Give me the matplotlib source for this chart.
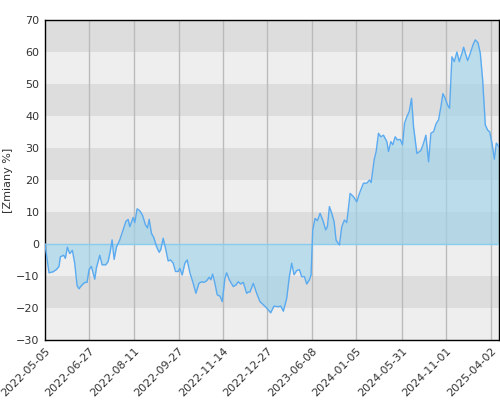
import matplotlib
matplotlib.use("Agg")
import matplotlib.pyplot as plt
import numpy as np

x = [0,12,24,34,42,46,56,61,67,74,82,89,96,102,109,119,126,132,139,149,154,164,171,182,189,196,201,207,214,224,234,242,249,254,264,269,276,284,292,301,307,312,319,326,334,342,347,354,361,369,376,384,391,399,404,411,419,426,434,444,452,461,469,476,484,492,497,502,509,516,524,531,539,544,552,564,572,579,586,594,604,609,614,624,634,644,654,664,676,686,699,706,714,724,732,739,746,754,762,769,777,784,792,797,802,809,816,824,832,841,846,852,859,866,872,882,889,897,904,914,924,934,944,954,964,972,977,986,992,999,1006,1014,1024,1029,1036,1042,1049,1056,1064,1071,1077,1084,1091,1098,1104,1114,1126,1134,1141,1149,1156,1164,1172,1179,1186,1192,1199,1206,1212,1219,1226,1234,1241,1249,1254,1266,1274,1282,1289,1297,1304,1311,1319,1326,1332,1339,1346,1352,1360]
v = [0,-9,-8.7,-8,-7,-4,-3.5,-4.5,-1,-3,-2,-6,-13,-14,-13,-12,-12,-8,-7,-11,-7.5,-3.5,-6.5,-6.5,-5.5,-2,1.3,-4.8,-1,1.3,4.4,7,7.7,5.4,8.3,6.7,11,10.4,9,6,5,7.7,3.3,2,-0.8,-2.6,-1.7,1.8,-1.3,-5.3,-5,-6,-8.6,-8.6,-7.6,-9.7,-6,-5,-9,-12.3,-15.4,-12.3,-11.8,-12,-11.5,-10.4,-11.2,-9.4,-12.3,-15.9,-16.3,-18,-10.7,-9,-11.2,-13.3,-12.8,-11.8,-12.5,-12,-15.4,-15,-15,-12.3,-15.4,-18,-19,-20,-21.5,-19.4,-19.6,-19.4,-21,-17,-10.2,-6,-9.6,-8.3,-8,-10.2,-10.2,-12.5,-11.2,-9.7,4.4,8,7.3,9.6,7.5,4.4,5.4,11.7,9.6,7,1.2,-0.3,5.4,7.5,6.7,15.8,14.8,13.2,16.4,19,19,20,19.2,26.3,28.9,34.6,33.5,34,32,28.9,32,31,33.5,32.5,32.7,31,37.7,39.8,41.4,45.5,36.7,28.3,29.2,31.5,34,25.7,34.6,35.1,37.7,38.8,42.9,47,45.5,43.4,42.4,58.5,57,60,57,59.6,61.5,57.3,59.6,62.2,63.8,62.9,59.6,51.3,37.2,35.6,35.1,31.5,26.5,31.5,30.4]
tick_pos = [0,132,267,400,534,666,801,933,1068,1200,1335]
tick_labels = ["2022-05-05","2022-06-27","2022-08-11","2022-09-27","2022-11-14","2022-12-27","2023-06-08","2024-01-05","2024-05-31","2024-11-01","2025-04-02"]

fig = plt.figure(figsize=(5,4), dpi=100)
ax = fig.add_axes([0.09, 0.15, 0.908, 0.80])
for lo in range(-30, 70, 10):
    c = "#dddddd" if (lo // 10) % 2 == 0 else "#eeeeee"
    ax.axhspan(lo, lo+10, color=c, lw=0, zorder=0)
for t in tick_pos[1:]:
    ax.axvline(t, color="#bbbbbb", lw=1, zorder=1)
ax.fill_between(x, v, 0, color="#9fd3ea", alpha=0.65, lw=0, zorder=2)
ax.axhline(0, color="#88ccee", lw=1, zorder=3)
ax.plot(x, v, color="#5aaaf0", lw=1, zorder=4)
ax.set_xlim(0, 1360)
ax.set_ylim(-30, 70)
ax.set_yticks(range(-30, 71, 10))
ax.set_xticks(tick_pos)
ax.set_xticklabels(tick_labels, rotation=45, ha="right", rotation_mode="anchor")
ax.tick_params(length=0, labelsize=8, colors="#333333", pad=4)
ax.set_ylabel("[Zmiany %]", fontsize=8, color="#333333", labelpad=2)
for s in ax.spines.values():
    s.set_color("black"); s.set_linewidth(1)
fig.savefig("out.png", dpi=100)
